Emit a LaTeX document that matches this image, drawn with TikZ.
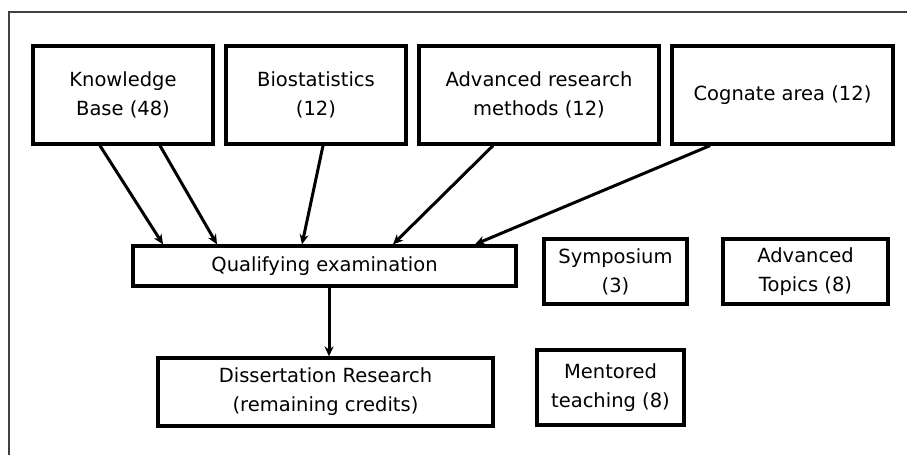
\documentclass[tikz,border=0pt]{standalone}
\usepackage{fontspec}
\setmainfont{DejaVu Sans}
\usetikzlibrary{arrows.meta}
\tikzset{
  box/.style={draw, rectangle, line width=3.3pt, inner sep=0pt, align=center,
    font=\fontsize{19.5}{29}\selectfont},
  link/.style={line width=3pt, -{Stealth[length=10pt,width=9pt]}}
}
\begin{document}
\begin{tikzpicture}[x=1pt, y=-1pt]
            \useasboundingbox (0,0) rectangle (907,455);
            \draw[line width=1.3pt, black!75] (9,455) -- (9,12) -- (907,12);
            \node[box, minimum width=180pt, minimum height=98pt] (kb) at (123,95) {Knowledge\\Base (48)};
            \node[box, minimum width=180pt, minimum height=98pt] (bio) at (316,95) {Biostatistics\\(12)};
            \node[box, minimum width=240pt, minimum height=98pt] (arm) at (539,95) {Advanced research\\methods (12)};
            \node[box, minimum width=221pt, minimum height=98pt] (cog) at (782.5,95) {Cognate area (12)};
            \node[box, minimum width=383pt, minimum height=40pt] (qual) at (324.5,266) {Qualifying examination};
            \node[box, minimum width=335pt, minimum height=68pt] (diss) at (325.5,392) {Dissertation Research\\(remaining credits)};
            \node[box, minimum width=143pt, minimum height=65pt] (sym) at (615.5,271.5) {Symposium\\(3)};
            \node[box, minimum width=165pt, minimum height=65pt] (adv) at (805.5,271.5) {Advanced\\Topics (8)};
            \node[box, minimum width=147pt, minimum height=75pt] (men) at (610.5,387.5) {Mentored\\teaching (8)};
            \draw[link] ([xshift=-23pt]kb.south) -- ([xshift=-161.5pt]qual.north);
            \draw[link] ([xshift=37pt]kb.south) -- ([xshift=-107.5pt]qual.north);
            \draw[link] ([xshift=7pt]bio.south) -- ([xshift=-22.5pt]qual.north);
            \draw[link] ([xshift=-46pt]arm.south) -- ([xshift=68.5pt]qual.north);
            \draw[link] ([xshift=-72.5pt]cog.south) -- ([xshift=150.5pt]qual.north);
            \draw[link] ([xshift=4.5pt]qual.south) -- ([xshift=3.5pt]diss.north);
        \end{tikzpicture}
\end{document}
